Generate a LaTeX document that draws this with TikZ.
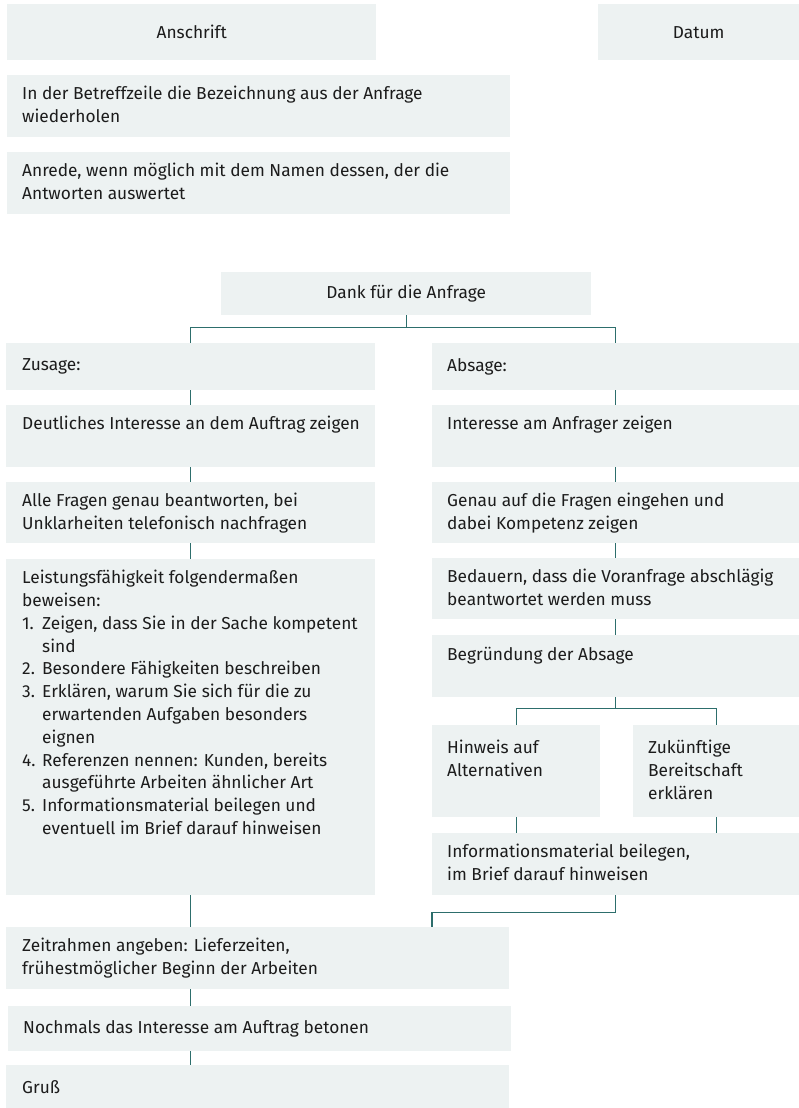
\documentclass[tikz,border=0pt]{standalone}
\usepackage{fontspec}
\setmainfont{Fira Sans}
\definecolor{boxfill}{RGB}{237,242,242}
\definecolor{linec}{RGB}{45,110,108}
\definecolor{txtc}{RGB}{28,28,28}
\tikzset{
  boxst/.style={fill=boxfill, draw=none, inner sep=0pt, anchor=north west},
  txtst/.style={anchor=north west, inner sep=0pt, text=txtc, align=left,
    font=\fontsize{17.3}{22.8}\selectfont},
  ctxt/.style={inner sep=0pt, text=txtc, font=\fontsize{17.3}{22.8}\selectfont},
  conn/.style={draw=linec, line width=1.3pt},
}
\newcommand{\mkbox}[5]{%
  \node[boxst, minimum width={(#3-#1)*1pt}, minimum height={(#4-#2)*1pt}] (#5) at (#1pt,-#2pt) {};}
\newcommand{\itm}[1]{\makebox[20pt][l]{#1}}
\newcommand{\ind}{\hspace*{20pt}}
\begin{document}
\begin{tikzpicture}[x=1pt,y=1pt]
\useasboundingbox (0,0) rectangle (799,-1108);
% boxes
\mkbox{7}{4}{376}{60}{ans}
\mkbox{598}{4}{799}{60}{dat}
\mkbox{7}{75}{510}{137}{bet}
\mkbox{7}{152}{510}{214}{anr}
\mkbox{221}{272}{591}{315}{dank}
\mkbox{6}{343}{375}{390}{zus}
\mkbox{432}{343}{799}{390}{abs}
\mkbox{6}{405}{375}{467}{deut}
\mkbox{432}{405}{799}{467}{int}
\mkbox{6}{482}{375}{543}{alle}
\mkbox{432}{482}{799}{543}{gen}
\mkbox{6}{559}{375}{895}{leis}
\mkbox{432}{558}{799}{619}{bed}
\mkbox{432}{635}{799}{697}{beg}
\mkbox{432}{725}{600}{817}{hin}
\mkbox{633}{725}{799}{817}{zuk}
\mkbox{432}{833}{799}{895}{inf}
\mkbox{6}{927}{509}{989}{zeit}
\mkbox{8}{1006}{511}{1051}{noch}
\mkbox{6}{1065}{509}{1108}{gruss}
% texts
\node[ctxt] (ansT) at (ans.center) {Anschrift};
\node[ctxt] (datT) at (dat.center) {Datum};
\node[ctxt] (dankT) at (dank.center) {Dank für die Anfrage};
\node[txtst] (betT) at ([shift={(15,-11)}]bet.north west) {In der Betreffzeile die Bezeichnung aus der Anfrage\\wiederholen};
\node[txtst] (anrT) at ([shift={(15,-11)}]anr.north west) {Anrede, wenn möglich mit dem Namen dessen, der die\\Antworten auswertet};
\node[ctxt, anchor=west] (zusT) at ([xshift=16]zus.west) {Zusage:};
\node[ctxt, anchor=west] (absT) at ([xshift=15]abs.west) {Absage:};
\node[txtst] (deutT) at ([shift={(16,-11)}]deut.north west) {Deutliches Interesse an dem Auftrag zeigen};
\node[txtst] (intT) at ([shift={(15,-11)}]int.north west) {Interesse am Anfrager zeigen};
\node[txtst] (alleT) at ([shift={(16,-11)}]alle.north west) {Alle Fragen genau beantworten, bei\\Unklarheiten telefonisch nachfragen};
\node[txtst] (genT) at ([shift={(15,-11)}]gen.north west) {Genau auf die Fragen eingehen und\\dabei Kompetenz zeigen};
\node[txtst] (leisT) at ([shift={(16,-11)}]leis.north west) {Leistungsfähigkeit folgendermaßen\\beweisen:\\
\itm{1.}Zeigen, dass Sie in der Sache kompetent\\\ind sind\\
\itm{2.}Besondere Fähigkeiten beschreiben\\
\itm{3.}Erklären, warum Sie sich für die zu\\\ind erwartenden Aufgaben besonders\\\ind eignen\\
\itm{4.}Referenzen nennen: Kunden, bereits\\\ind ausgeführte Arbeiten ähnlicher Art\\
\itm{5.}Informationsmaterial beilegen und\\\ind eventuell im Brief darauf hinweisen};
\node[txtst] (bedT) at ([shift={(15,-11)}]bed.north west) {Bedauern, dass die Voranfrage abschlägig\\beantwortet werden muss};
\node[txtst] (begT) at ([shift={(15,-12)}]beg.north west) {Begründung der Absage};
\node[txtst] (hinT) at ([shift={(15,-15)}]hin.north west) {Hinweis auf\\Alternativen};
\node[txtst] (zukT) at ([shift={(15,-15)}]zuk.north west) {Zukünftige\\Bereitschaft\\erklären};
\node[txtst] (infT) at ([shift={(15,-11)}]inf.north west) {Informationsmaterial beilegen,\\im Brief darauf hinweisen};
\node[txtst] (zeitT) at ([shift={(16,-11)}]zeit.north west) {Zeitrahmen angeben: Lieferzeiten,\\frühestmöglicher Beginn der Arbeiten};
\node[ctxt, anchor=west] (nochT) at ([xshift=15]noch.west) {Nochmals das Interesse am Auftrag betonen};
\node[ctxt, anchor=west] (grT) at ([xshift=16]gruss.west) {Gruß};
% connectors
\draw[conn] (dank.south) -- ++(0,-12) coordinate (f1);
\draw[conn] (zus.north) |- (f1) -| (abs.north);
\draw[conn] (zus.south) -- (deut.north);
\draw[conn] (deut.south) -- (alle.north);
\draw[conn] (alle.south) -- (leis.north);
\draw[conn] (abs.south) -- (int.north);
\draw[conn] (int.south) -- (gen.north);
\draw[conn] (gen.south) -- (bed.north);
\draw[conn] (bed.south) -- (beg.north);
\draw[conn] (beg.south) -- ++(0,-11) coordinate (f2);
\draw[conn] (hin.north) |- (f2) -| (zuk.north);
\draw[conn] (hin.south) -- (hin.south |- inf.north);
\draw[conn] (zuk.south) -- (zuk.south |- inf.north);
\draw[conn] (inf.south) -- ++(0,-17) -| (zeit.north -| inf.south west);
\draw[conn] (leis.south) -- (leis.south |- zeit.north);
\draw[conn] (zeit.south -| leis.south) -- (noch.north -| leis.south);
\draw[conn] (noch.south -| leis.south) -- (gruss.north -| leis.south);
\end{tikzpicture}
\end{document}
